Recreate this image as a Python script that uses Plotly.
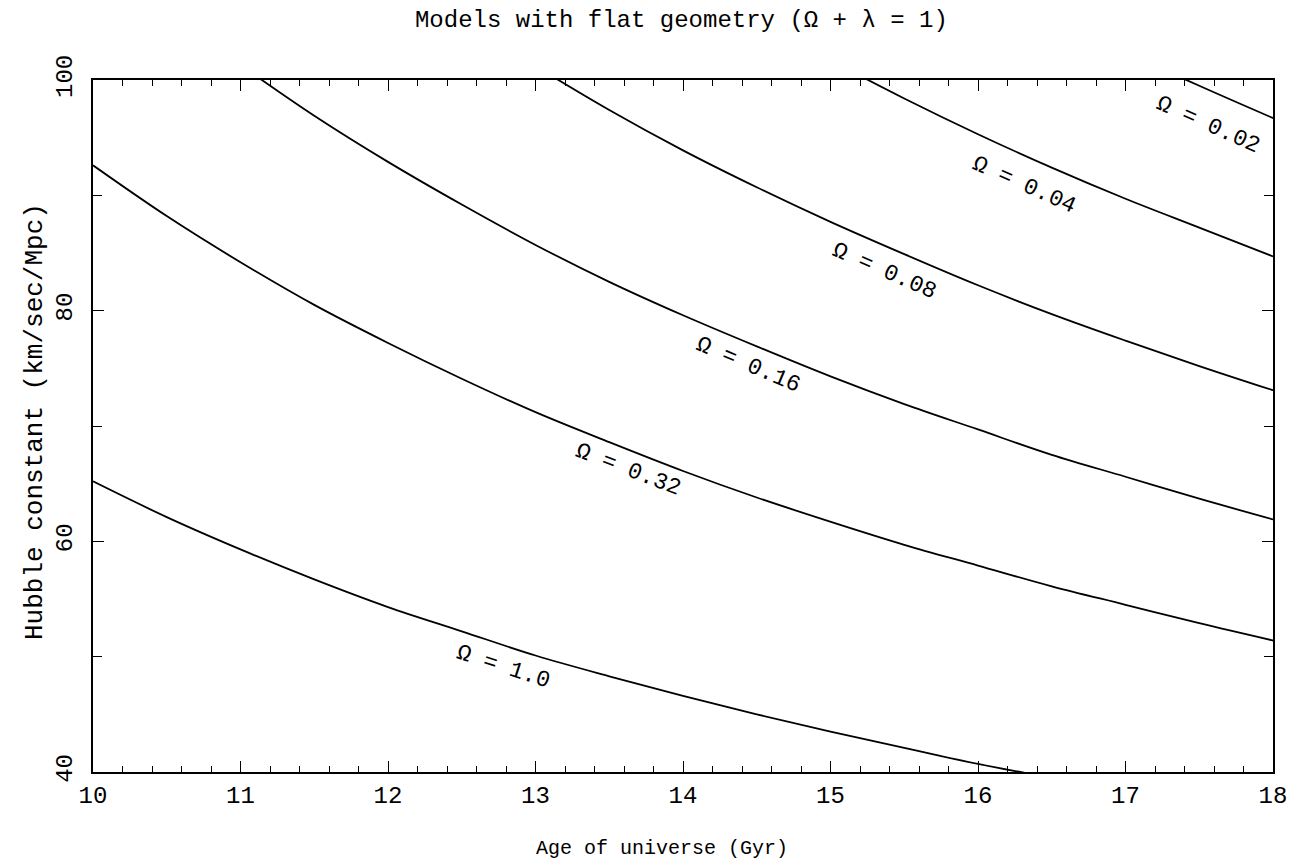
import plotly.graph_objects as go

FONT = "Liberation Mono"

# Curves: age (Gyr) and Hubble constant (km/sec/Mpc)
omega_labels = ["Ω = 1.0", "Ω = 0.32", "Ω = 0.16", "Ω = 0.08", "Ω = 0.04", "Ω = 0.02"]

age_om100 = [10, 10.5, 11, 11.5, 12, 12.5, 13, 13.5, 14, 14.5, 15, 15.5, 16, 16.5]
h_om100 = [65.2, 62.1, 59.3, 56.7, 54.3, 52.2, 50.1, 48.3, 46.6, 45.0, 43.5, 42.1, 40.7, 39.5]

age_om032 = [10, 10.5, 11, 11.5, 12, 12.5, 13, 13.5, 14, 14.5, 15, 15.5, 16, 16.5, 17, 17.5, 18]
h_om032 = [92.6, 88.2, 84.2, 80.5, 77.2, 74.1, 71.2, 68.6, 66.1, 63.8, 61.7, 59.7, 57.9, 56.1, 54.5, 52.9, 51.4]

age_om016 = [11, 11.5, 12, 12.5, 13, 13.5, 14, 14.5, 15, 15.5, 16, 16.5, 17, 17.5, 18]
h_om016 = [101.3, 96.9, 92.9, 89.2, 85.7, 82.5, 79.6, 76.9, 74.3, 71.9, 69.7, 67.5, 65.6, 63.7, 61.9]

age_om008 = [13, 13.5, 14, 14.5, 15, 15.5, 16, 16.5, 17, 17.5, 18]
h_om008 = [101.2, 97.4, 93.9, 90.7, 87.7, 84.9, 82.2, 79.7, 77.4, 75.2, 73.1]

age_om004 = [15, 15.5, 16, 16.5, 17, 17.5, 18]
h_om004 = [101.7, 98.4, 95.3, 92.4, 89.7, 87.2, 84.7]

age_om002 = [17, 17.5, 18]
h_om002 = [102.4, 99.5, 96.7]

# label anchor positions (data coords) and angles
label_x = [12.78, 13.63, 14.44, 15.36, 16.31, 17.56]
label_y = [49.1, 66.2, 75.3, 83.4, 90.9, 96.1]
label_angle = [18, 21, 23, 23.5, 24, 24]

title_text = "Models with flat geometry (Ω + λ = 1)"
x_title = "Age of universe (Gyr)"
y_title = "Hubble constant (km/sec/Mpc)"
x_ticks = [10, 11, 12, 13, 14, 15, 16, 17, 18]
y_ticks = [40, 60, 80, 100]

series = [
    (age_om100, h_om100),
    (age_om032, h_om032),
    (age_om016, h_om016),
    (age_om008, h_om008),
    (age_om004, h_om004),
    (age_om002, h_om002),
]

fig = go.Figure()
for (ax, hy), name in zip(series, omega_labels):
    fig.add_trace(go.Scatter(
        x=ax, y=hy, mode="lines", name=name,
        line=dict(color="black", width=1.8, shape="spline"),
        showlegend=False, hoverinfo="skip",
    ))

for lx, ly, la, txt in zip(label_x, label_y, label_angle, omega_labels):
    fig.add_annotation(
        x=lx, y=ly, text=txt, showarrow=False, textangle=la,
        font=dict(family=FONT, size=23, color="black"),
    )

# axis titles as paper annotations
fig.add_annotation(x=0.482, y=-0.11, xref="paper", yref="paper", text=x_title,
                   showarrow=False, xanchor="center", yanchor="middle",
                   font=dict(family=FONT, size=20, color="black"))
fig.add_annotation(x=-0.049, y=0.506, xref="paper", yref="paper", text=y_title,
                   showarrow=False, xanchor="center", yanchor="middle", textangle=-90,
                   font=dict(family=FONT, size=26, color="black"))

fig.update_layout(
    width=1295, height=863,
    margin=dict(l=85, r=30, t=72, b=99, autoexpand=False),
    paper_bgcolor="white", plot_bgcolor="white",
    title=dict(text=title_text, x=0.52, xanchor="center", y=0.988, yanchor="middle",
               font=dict(family=FONT, size=24, color="black")),
)

fig.update_xaxes(
    range=[10, 18], tickvals=x_ticks, ticktext=[str(v) for v in x_ticks],
    automargin=False,
    showgrid=False, zeroline=False, showline=True, linecolor="black", linewidth=1.6,
    mirror="allticks", ticks="inside", ticklen=11, tickwidth=1.3, tickcolor="black",
    minor=dict(dtick=0.2, ticks="inside", ticklen=6, tickwidth=1.2, tickcolor="black"),
    tickfont=dict(family=FONT, size=24, color="black"),
)

fig.update_yaxes(
    range=[40, 100], tickvals=y_ticks, ticktext=[str(v) for v in y_ticks],
    tickangle=-90, automargin=False, ticklabelstandoff=10,
    showgrid=False, zeroline=False, showline=True, linecolor="black", linewidth=1.6,
    mirror="allticks", ticks="inside", ticklen=11, tickwidth=1.3, tickcolor="black",
    minor=dict(dtick=10, ticks="inside", ticklen=9, tickwidth=1.2, tickcolor="black"),
    tickfont=dict(family=FONT, size=24, color="black"),
)

fig.write_html("out.html")
